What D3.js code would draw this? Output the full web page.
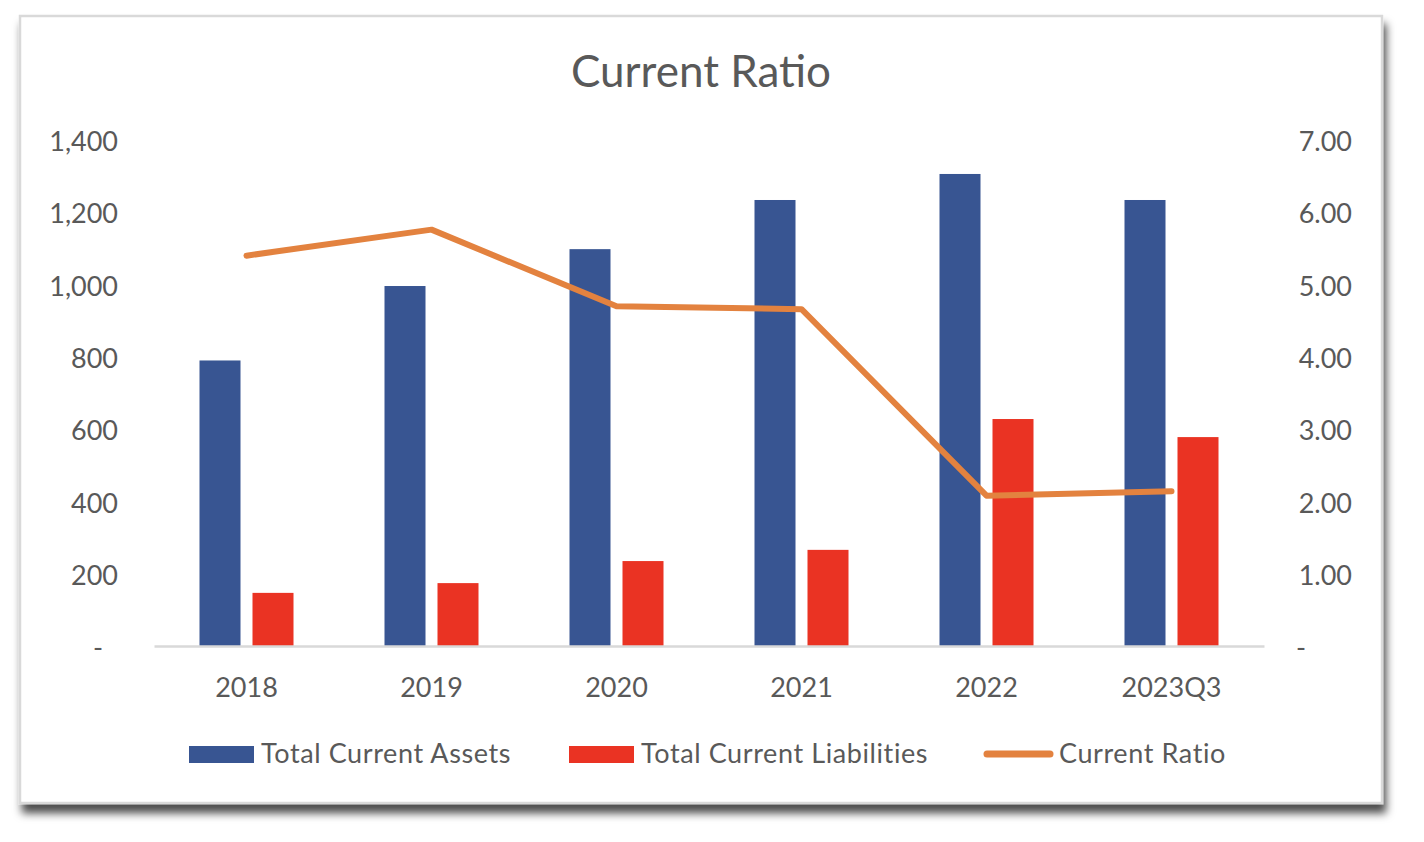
<!DOCTYPE html>
<html>
<head>
<meta charset="utf-8">
<script src="https://cdn.jsdelivr.net/npm/d3@7"></script>
<style>
  html, body { margin: 0; padding: 0; background: #ffffff; }
  svg { display: block; }
  text { font-family: Lato, "Open Sans", sans-serif; fill: #595959; }
</style>
</head>
<body>
<svg id="chart" width="1424" height="842"></svg>
<script>
const categories = ["2018", "2019", "2020", "2021", "2022", "2023Q3"];
const totalCurrentAssets = [790, 996, 1098, 1234, 1306, 1234];
const totalCurrentLiabilities = [147, 174, 235, 266, 628, 578];
const currentRatio = [5.40, 5.76, 4.70, 4.66, 2.08, 2.14];
const leftTicks = [0, 200, 400, 600, 800, 1000, 1200, 1400];
const leftTickLabels = ["-", "200", "400", "600", "800", "1,000", "1,200", "1,400"];
const rightTicks = [0, 1, 2, 3, 4, 5, 6, 7];
const rightTickLabels = ["-", "1.00", "2.00", "3.00", "4.00", "5.00", "6.00", "7.00"];
const seriesNames = ["Total Current Assets", "Total Current Liabilities", "Current Ratio"];
const seriesColors = ["#385592", "#EA3323", "#E3823F"];

const svg = d3.select("#chart");

// shadow filter
const defs = svg.append("defs");
const f = defs.append("filter").attr("id", "shadow").attr("x", "-5%").attr("y", "-5%").attr("width", "110%").attr("height", "115%");
f.append("feDropShadow").attr("dx", 3).attr("dy", 9).attr("stdDeviation", 4.5)
  .attr("flood-color", "#000").attr("flood-opacity", 0.7);

svg.append("rect")
  .attr("x", 20).attr("y", 16).attr("width", 1362).attr("height", 787)
  .attr("fill", "#ffffff").attr("stroke", "#d9d9d9").attr("stroke-width", 2.5)
  .attr("filter", "url(#shadow)");

// title
svg.append("text")
  .attr("x", 701).attr("y", 87)
  .attr("text-anchor", "middle")
  .style("font-size", "44px")
  .text("Current Ratio");

const x0 = d3.scaleBand().domain(categories).range([154, 1264]).padding(0);
const x1 = d3.scaleBand().domain(["assets", "liab"])
  .range([x0.bandwidth() / 2 - 47, x0.bandwidth() / 2 + 47])
  .paddingInner(0.2264);
const yL = d3.scaleLinear().domain([0, 1400]).range([646, 140]);
const yR = d3.scaleLinear().domain([0, 7]).range([646, 140]);

// left axis
const leftAxis = d3.axisLeft(yL).tickValues(leftTicks)
  .tickFormat((d, i) => leftTickLabels[i]).tickSize(0).tickPadding(0);
const gL = svg.append("g").attr("transform", "translate(118,2)").call(leftAxis);
gL.select(".domain").remove();
gL.selectAll("text").style("font-size", "27px").style("font-family", "Lato").attr("fill", "#595959")
  .attr("dx", (d) => d === 0 ? -15 : 0);

// right axis
const rightAxis = d3.axisRight(yR).tickValues(rightTicks)
  .tickFormat((d, i) => rightTickLabels[i]).tickSize(0).tickPadding(0);
const gR = svg.append("g").attr("transform", "translate(1352,2)").call(rightAxis);
gR.select(".domain").remove();
gR.selectAll("text").style("font-size", "27px").style("font-family", "Lato").attr("fill", "#595959")
  .attr("text-anchor", "end")
  .attr("dx", (d) => d === 0 ? -46 : 0);

// bars
const groups = svg.append("g").selectAll("g").data(categories).join("g")
  .attr("transform", (d) => `translate(${x0(d)},0)`);
groups.append("rect")
  .attr("x", x1("assets")).attr("width", x1.bandwidth())
  .attr("y", (d, i) => yL(totalCurrentAssets[i]))
  .attr("height", (d, i) => yL(0) - yL(totalCurrentAssets[i]))
  .attr("fill", seriesColors[0]);
groups.append("rect")
  .attr("x", x1("liab")).attr("width", x1.bandwidth())
  .attr("y", (d, i) => yL(totalCurrentLiabilities[i]))
  .attr("height", (d, i) => yL(0) - yL(totalCurrentLiabilities[i]))
  .attr("fill", seriesColors[1]);

// x axis baseline
const xAxis = d3.axisBottom(x0).tickSize(0).tickPadding(0);
const gX = svg.append("g").attr("transform", `translate(0,${yL(0)})`).call(xAxis);
gX.select(".domain").attr("stroke", "#d9d9d9").attr("stroke-width", 2.5);
gX.selectAll("text").style("font-size", "27px").style("font-family", "Lato").attr("fill", "#595959")
  .attr("y", 51).attr("dy", 0);

// line
const line = d3.line()
  .x((d, i) => x0(categories[i]) + x0.bandwidth() / 2)
  .y((d) => yR(d));
svg.append("path").datum(currentRatio)
  .attr("d", line).attr("fill", "none")
  .attr("stroke", seriesColors[2]).attr("stroke-width", 6)
  .attr("stroke-linejoin", "round").attr("stroke-linecap", "round");

// legend
const legend = svg.append("g");
const legendX = [189, 569, 984];
seriesNames.forEach((name, i) => {
  const g = legend.append("g").attr("transform", `translate(${legendX[i]},0)`);
  if (i < 2) {
    g.append("rect").attr("x", 0).attr("y", 746).attr("width", 65).attr("height", 17).attr("fill", seriesColors[i]);
  } else {
    g.append("line").attr("x1", 3).attr("x2", 66).attr("y1", 754).attr("y2", 754)
      .attr("stroke", seriesColors[i]).attr("stroke-width", 7).attr("stroke-linecap", "round");
  }
  g.append("text").attr("x", i < 2 ? 72 : 75).attr("y", 763)
    .style("font-size", "27px").style("letter-spacing", "0.6px").text(name);
});
</script>
</body>
</html>
